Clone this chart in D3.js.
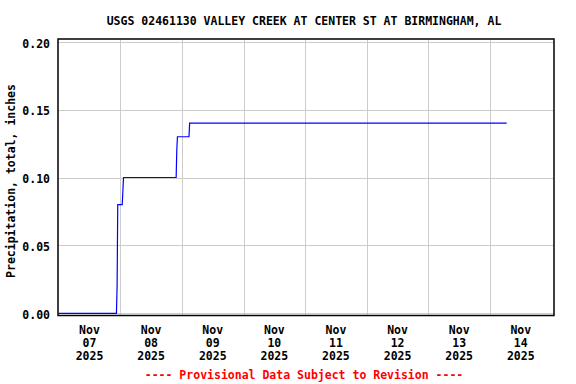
<!DOCTYPE html>
<html>
<head>
<meta charset="utf-8">
<script src="https://cdn.jsdelivr.net/npm/d3@7"></script>
<style>
  body { margin: 0; background: #fff; }
  text { font-family: 'DejaVu Sans Mono', 'Liberation Mono', monospace; font-weight: bold; font-size: 11.5px; }
</style>
</head>
<body>
<div id="chart"></div>
<script>
const WIDTH = 576
const HEIGHT = 384
const PLOT = { left: 58.7, right: 551.6, top: 41.7, bottom: 313.3 }
const FRAME = { x: 58, y: 39, w: 496, h: 276.5 }

const TITLE = 'USGS 02461130 VALLEY CREEK AT CENTER ST AT BIRMINGHAM, AL'
const Y_LABEL = 'Precipitation, total, inches'
const FOOTER = '---- Provisional Data Subject to Revision ----'

const obsTimes = [
  '2025-11-07T00:00', '2025-11-07T22:30', '2025-11-07T22:45', '2025-11-07T23:00',
  '2025-11-08T00:45', '2025-11-08T01:00', '2025-11-08T01:15',
  '2025-11-08T21:45', '2025-11-08T22:00', '2025-11-08T22:15',
  '2025-11-09T02:45', '2025-11-09T03:00', '2025-11-14T06:30'
]
const obsValues = [0, 0, 0.02, 0.08, 0.08, 0.09, 0.10, 0.10, 0.12, 0.13, 0.13, 0.14, 0.14]

const yTicks = [0, 0.05, 0.10, 0.15, 0.20]
const dayTicks = ['2025-11-07', '2025-11-08', '2025-11-09', '2025-11-10', '2025-11-11', '2025-11-12', '2025-11-13', '2025-11-14']
const xDomain = ['2025-11-07T00:00', '2025-11-15T00:00']

const parseTime = d3.utcParse('%Y-%m-%dT%H:%M')
const parseDay = d3.utcParse('%Y-%m-%d')

const data = obsTimes.map((t, i) => ({ date: parseTime(t), value: obsValues[i] }))

const svg = d3.select('#chart')
  .append('svg')
  .attr('width', WIDTH)
  .attr('height', HEIGHT)

const xScale = d3.scaleUtc()
  .domain(xDomain.map(parseTime))
  .range([PLOT.left, PLOT.right])

const yScale = d3.scaleLinear()
  .domain([0, 0.2])
  .range([PLOT.bottom, PLOT.top])

// Title
svg.append('text')
  .attr('x', 304)
  .attr('y', 24.5)
  .attr('text-anchor', 'middle')
  .text(TITLE)

// Horizontal grid
svg.append('g')
  .selectAll('line')
  .data(yTicks)
  .enter()
  .append('line')
  .attr('x1', FRAME.x)
  .attr('x2', FRAME.x + FRAME.w)
  .attr('y1', d => Math.round(yScale(d)) + 0.5)
  .attr('y2', d => Math.round(yScale(d)) + 0.5)
  .attr('stroke', '#cccccc')
  .attr('stroke-width', 1)

// Vertical grid (midnight of each day)
svg.append('g')
  .selectAll('line')
  .data(dayTicks.slice(1))
  .enter()
  .append('line')
  .attr('x1', d => Math.round(xScale(parseDay(d))) + 0.5)
  .attr('x2', d => Math.round(xScale(parseDay(d))) + 0.5)
  .attr('y1', FRAME.y)
  .attr('y2', FRAME.y + FRAME.h)
  .attr('stroke', '#cccccc')
  .attr('stroke-width', 1)

// Data line
svg.append('path')
  .datum(data)
  .attr('fill', 'none')
  .attr('stroke', '#0000ff')
  .attr('stroke-width', 1.2)
  .attr('d', d3.line()
    .x(d => xScale(d.date))
    .y(d => yScale(d.value))
  )

// Frame
svg.append('rect')
  .attr('x', FRAME.x)
  .attr('y', FRAME.y)
  .attr('width', FRAME.w)
  .attr('height', FRAME.h)
  .attr('fill', 'none')
  .attr('stroke', '#000')
  .attr('stroke-width', 1.5)

// Y tick labels
svg.append('g')
  .selectAll('text')
  .data(yTicks)
  .enter()
  .append('text')
  .attr('x', 50)
  .attr('y', d => yScale(d) + 5.8)
  .attr('text-anchor', 'end')
  .text(d => d3.format('.2f')(d))

// X tick labels, centred on each day
const fmtMon = d3.utcFormat('%b')
const fmtDay = d3.utcFormat('%d')
const fmtYear = d3.utcFormat('%Y')
const xLabels = svg.append('g')
  .selectAll('text')
  .data(dayTicks.map(parseDay))
  .enter()
  .append('text')
  .attr('text-anchor', 'middle')
xLabels.each(function (d) {
  const cx = xScale(d3.utcHour.offset(d, 12))
  const t = d3.select(this)
  t.append('tspan').attr('x', cx).attr('y', 334.3).text(fmtMon(d))
  t.append('tspan').attr('x', cx).attr('y', 347).text(fmtDay(d))
  t.append('tspan').attr('x', cx).attr('y', 360).text(fmtYear(d))
})

// Y axis title
svg.append('text')
  .attr('transform', 'translate(15,181) rotate(-90)')
  .attr('text-anchor', 'middle')
  .text(Y_LABEL)

// Footer
svg.append('text')
  .attr('x', 304)
  .attr('y', 379)
  .attr('text-anchor', 'middle')
  .attr('fill', '#ff0000')
  .text(FOOTER)
</script>
</body>
</html>
